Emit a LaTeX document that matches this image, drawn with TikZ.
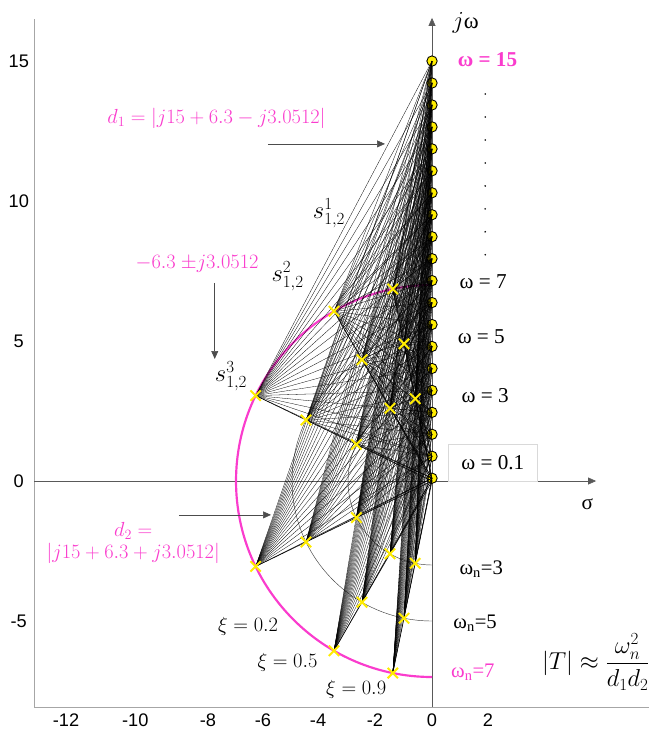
\documentclass[tikz,border=0pt]{standalone}
\usepackage{amsmath}
\usepackage{fontspec}
\setmainfont{Liberation Serif}
\newfontfamily\ticksf{Liberation Sans}
\usetikzlibrary{arrows.meta,positioning,shapes.misc}
\definecolor{pinkmag}{RGB}{250,60,205}
\definecolor{poleyel}{RGB}{255,236,0}
\tikzset{
  axis/.style={-{Triangle[length=8pt,width=7pt]}, black!65, line width=0.6pt},
  frame/.style={draw=black!35, line width=0.7pt},
  fan/.style={black, line width=0.3pt},
  zeta/.style={black, line width=0.6pt},
  wnarc/.style={black!75, line width=0.45pt},
  wnseven/.style={pinkmag, line width=2.2pt},
  pole/.style={cross out, draw=poleyel, line width=2pt, minimum size=8.5pt, inner sep=0pt},
  omega/.style={circle, draw=black, fill=yellow!95!orange, line width=0.9pt, minimum size=10.5pt, inner sep=0pt},
  dotmark/.style={circle, fill=black, inner sep=0pt, minimum size=1.8pt},
  tick/.style={font=\ticksf\fontsize{18.5}{22}\selectfont},
  lbl/.style={font=\fontsize{21.5}{24}\selectfont},
  mlbl/.style={font=\fontsize{21}{24}\selectfont, align=center},
  note/.style={mlbl, text=pinkmag},
  pointer/.style={-{Triangle[length=8pt,width=7pt]}, black!70, line width=0.6pt}
}

\begin{document}
\begin{tikzpicture}
  \useasboundingbox (-15.43,-8.857) rectangle (7.82,17.18);
  % plot frame and tick labels
  \draw[frame] (-14.2,16.5) -- (-14.2,-8.08) -- (7.75,-8.08);
  \foreach \v in {15,10,5,0,-5} \node[tick] (ty\v) at (-14.76,\v) {\v};
  \foreach \v/\p in {-12/-13.07,-10/-10.6,-8/-8,-6/-6.04,-4/-4.07,-2/-2.04,0/0,2/2}
    \node[tick, anchor=base, inner sep=0pt] (tx\v) at (\p,-8.76) {\v};

  % axes
  \coordinate (O) at (0,0);
  \coordinate (sigL) at (-14.2,0);
  \coordinate (sigR) at (5.86,0);
  \coordinate (jwB) at (0,-8.08);
  \coordinate (jwT) at (0,16.54);
  \draw[axis] (sigL) -- (sigR);
  \draw[axis] (jwB) -- (jwT);
  \node[lbl] (sig) at (5.55,-0.82) {σ};
  \node[mlbl, font=\fontsize{23}{26}\selectfont] (jw) at (1.2,16.35) {$j$ω};

  % natural frequency circles
  \draw[wnarc] (0,3) arc[start angle=90,end angle=270,radius=3];
  \draw[wnarc] (0,5) arc[start angle=90,end angle=270,radius=5];
  \draw[wnseven] (0,7) arc[start angle=90,end angle=270,radius=7];

  % frequency points on the j-omega axis
  \foreach \k in {0,...,19} \node[omega] (w\k) at (0,{0.1+\k*14.9/19}) {};

  % poles
  \foreach \z/\zn in {0.2/a,0.5/b,0.9/c}
    \foreach \wn in {3,5,7} {
      \coordinate (pu\zn\wn) at ({-\z*\wn},{\wn*sqrt(1-\z*\z)});
      \coordinate (pl\zn\wn) at ({-\z*\wn},{-\wn*sqrt(1-\z*\z)});
    }

  % distance lines
  \foreach \zn in {a,b,c}
    \foreach \wn in {3,5,7}
      \foreach \s in {u,l}
        \foreach \k in {0,...,19}
          \draw[fan] (p\s\zn\wn) -- (w\k.center);
  \foreach \zn in {a,b,c}
    \foreach \s in {u,l} \draw[zeta] (p\s\zn7) -- (O);

  \foreach \zn in {a,b,c}
    \foreach \wn in {3,5,7}
      \foreach \s in {u,l} \node[pole] (x\s\zn\wn) at (p\s\zn\wn) {};

  % labels on the right
  \node[lbl, text=pinkmag, font=\fontsize{21.5}{24}\selectfont\bfseries] (w15l) at (1.98,15.04) {ω = 15};
  \foreach \k in {0,...,7} \node[dotmark] (dot\k) at (1.9,{13.82-\k*0.82}) {};
  \node[lbl] (w7l) at (1.83,7.12) {ω = 7};
  \node[lbl] (w5l) at (1.76,5.14) {ω = 5};
  \node[lbl] (w3l) at (1.9,3.04) {ω = 3};
  \node[lbl, draw=black!15, minimum width=3.2cm, minimum height=1.32cm] (w01l) at (2.17,0.66) {ω = 0.1};
  \node[lbl, font=\fontsize{21}{24}\selectfont] (wn3) at (1.76,-3.14) {ω$_\text{n}$=3};
  \node[lbl, font=\fontsize{21}{24}\selectfont] (wn5) at (1.54,-5.08) {ω$_\text{n}$=5};
  \node[lbl, font=\fontsize{21}{24}\selectfont, text=pinkmag] (wn7) at (1.46,-6.83) {ω$_\text{n}$=7};
  \node[mlbl, font=\fontsize{24}{28}\selectfont] (gain) at (5.85,-6.45) {$|T| \approx \dfrac{\omega_n^2}{d_1 d_2}$};

  % damping and pole labels
  \node[mlbl] (xi2) at (-6.57,-5.2) {$\xi = 0.2$};
  \node[mlbl] (xi5) at (-5.16,-6.49) {$\xi = 0.5$};
  \node[mlbl] (xi9) at (-2.71,-7.46) {$\xi = 0.9$};
  \node[mlbl, font=\fontsize{23}{26}\selectfont] (s1) at (-3.68,9.57) {$s_{1,2}^1$};
  \node[mlbl, font=\fontsize{23}{26}\selectfont] (s2) at (-5.16,7.3) {$s_{1,2}^2$};
  \node[mlbl, font=\fontsize{23}{26}\selectfont] (s3) at (-7.18,3.73) {$s_{1,2}^3$};

  % distance notes
  \node[note] (d1) at (-7.7,12.96) {$d_1 = |j15 + 6.3 - j3.0512|$};
  \node[note] (pval) at (-8.39,7.75) {$-6.3\ {\pm}j3.0512$};
  \node[note, font=\fontsize{21}{22.7}\selectfont] (d2) at (-10.67,-2.21) {$d_2 =$\\$|j15 + 6.3 + j3.0512|$};
  \coordinate (d1a) at (-5.86,12.04);
  \coordinate (d1b) at (-1.68,12.04);
  \coordinate (pva) at (-7.76,7.08);
  \coordinate (pvb) at (-7.76,4.36);
  \coordinate (d2a) at (-9.04,-1.21);
  \coordinate (d2b) at (-5.75,-1.21);
  \draw[pointer] (d1a) -- (d1b);
  \draw[pointer] (pva) -- (pvb);
  \draw[pointer] (d2a) -- (d2b);
\end{tikzpicture}
\end{document}
